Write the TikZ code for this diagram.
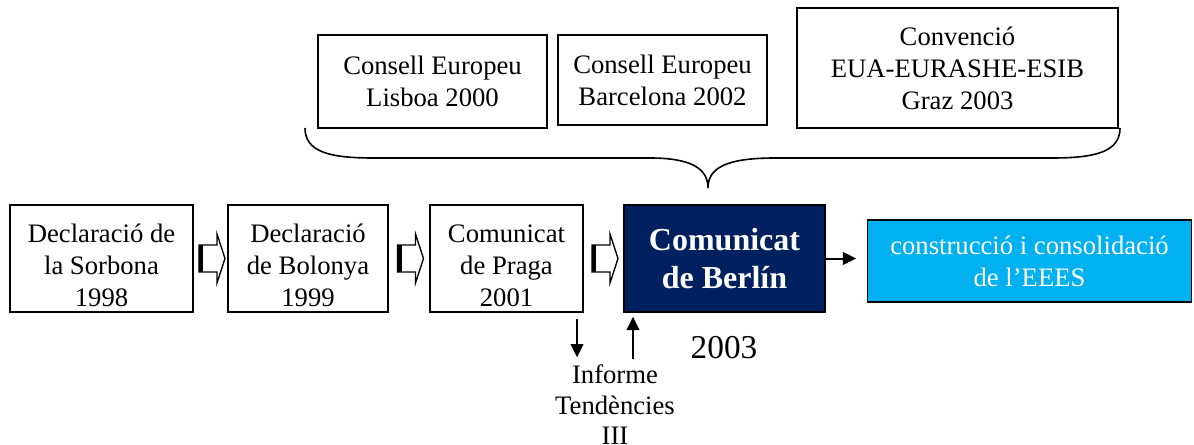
\documentclass[tikz,border=0pt]{standalone}
\usepackage{fontspec}
\setmainfont{Liberation Serif}
\usetikzlibrary{arrows.meta, positioning, calc}

\definecolor{navy}{RGB}{0,32,96}
\definecolor{skyblue}{RGB}{0,176,240}
\newcommand{\lowstrut}{\rule{0pt}{24pt}}

\tikzset{
    box/.style={draw, line width=1.2pt, inner sep=0pt, align=center, font=\fontsize{20}{24}\selectfont},
    arr/.style={-{Triangle[length=10pt, width=9.5pt]}, line width=1.5pt},
}

\begin{document}
\begin{tikzpicture}[x=0.75pt, y=-0.75pt]
    \useasboundingbox (0,0) rectangle (1194,445);

    % boxes of the timeline (sizes in px * 0.75pt)
    \node[box, minimum width=137.25pt, minimum height=80.25pt] (sorb) at (101.5,258.5) {\lowstrut Declaració de\\la Sorbona\\1998};
    \node[box, minimum width=120pt, minimum height=80.25pt] (bol) at (308,258.5) {\lowstrut Declaració\\de Bolonya\\1999};
    \node[box, minimum width=114.75pt, minimum height=80.25pt] (praga) at (506.5,258.5) {\lowstrut Comunicat\\de Praga\\2001};
    \node[box, fill=navy, text=white, minimum width=150.75pt, minimum height=80.25pt,
          font=\fontsize{24}{28.5}\selectfont\bfseries] (berlin) at (724.5,258.5) {Comunicat\\de Berlín};
    \node[box, line width=0.8pt, fill=skyblue, text=white, minimum width=243pt, minimum height=61.5pt] (eees) at (1029.5,261) {construcció i consolidació\\de l’EEES};

    % boxes on top
    \node[box, minimum width=171.75pt, minimum height=69.75pt] (lisboa) at (432.5,81.5) {Consell Europeu\\Lisboa 2000};
    \node[box, minimum width=156.75pt, minimum height=67.5pt] (barna) at (662.5,80) {Consell Europeu\\Barcelona 2002};
    \node[box, minimum width=240.75pt, minimum height=90pt] (graz) at (957.5,68) {Convenció\\EUA-EURASHE-ESIB\\Graz 2003};

    % brace
    \draw[line width=1.2pt] (305,128) .. controls (305,152) and (330,158) .. (373,158)
        -- (650,158) .. controls (690,158) and (708,168) .. (708,188)
        .. controls (708,168) and (726,158) .. (775,158)
        -- (1052,158) .. controls (1095,158) and (1120,152) .. (1120,128);

    % hollow arrows
    \foreach \a/\b in {sorb/bol, bol/praga, praga/berlin} {
        \coordinate (m) at ($(\a.east)!0.5!(\b.west)+(1.5,0)$);
        \filldraw[fill=white, line width=1pt] (m) ++(-13,-13.5) -- ++(18,0) -- ++(0,-11)
            -- ++(8,24.5) -- ++(-8,24.5) -- ++(0,-11) -- ++(-18,0) -- cycle;
        \fill (m) ++(-13,-13.5) rectangle ++(4,27);
    }

    \draw[arr] (berlin.east) -- ([xshift=-8pt]eees.west |- berlin.east);

    \node[font=\fontsize{25}{30}\selectfont] (year) at (724,348) {2003};
    \node[align=center, font=\fontsize{20}{23}\selectfont, below] (inf) at (615,360) {Informe\\Tendències\\III};

    \coordinate (dnx) at (577,0);
    \coordinate (upx) at (633,0);
    \draw[arr] ([yshift=-5pt]praga.south -| dnx) -- ([yshift=2pt]inf.north -| dnx);
    \draw[arr] ([yshift=1pt]inf.north -| upx) -- ([yshift=-3pt]berlin.south -| upx);
\end{tikzpicture}
\end{document}
